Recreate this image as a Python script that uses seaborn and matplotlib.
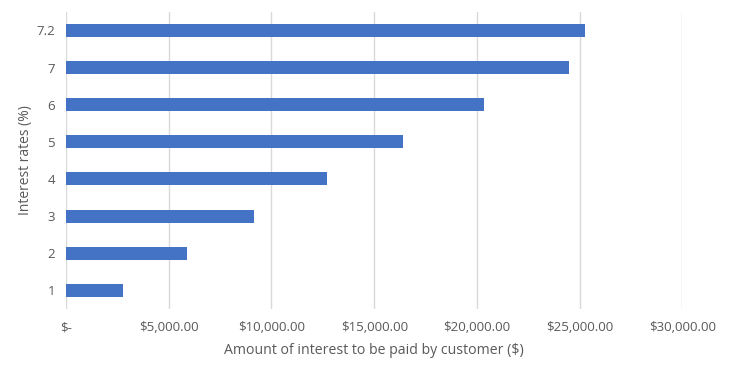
import matplotlib
matplotlib.use("Agg")
import matplotlib.pyplot as plt
from matplotlib.ticker import FuncFormatter, MultipleLocator
import pandas as pd
import seaborn as sns

# values
rates = ["7.2", "7", "6", "5", "4", "3", "2", "1"]
interest = [25270, 24460, 20320, 16390, 12690, 9150, 5880, 2790]

BAR = "#4472C4"
GRID = "#D9D9D9"
TEXT = "#595959"


def money(v, _pos):
    if abs(v) < 1e-9:
        return "$-"
    return f"${v:,.2f}"


def main():
    sns.set_theme(style="white")
    plt.rcParams["font.family"] = ["Open Sans", "DejaVu Sans"]

    df = pd.DataFrame({"rate": rates, "interest": interest})

    fig = plt.figure(figsize=(7.33, 3.73), dpi=100)
    ax = fig.add_axes([0.090, 0.172, 0.841, 0.796])

    sns.barplot(data=df, x="interest", y="rate", order=rates,
                color=BAR, saturation=1, width=0.35, linewidth=0, ax=ax)

    ax.set_xlim(0, 30000)
    ax.set_ylim(7.5, -0.5)
    ax.xaxis.set_major_locator(MultipleLocator(5000))
    ax.xaxis.set_major_formatter(FuncFormatter(money))
    ax.grid(axis="x", color=GRID, linewidth=1)
    ax.grid(axis="y", visible=False)
    ax.set_axisbelow(True)
    for s in ax.spines.values():
        s.set_visible(False)

    ax.tick_params(axis="both", length=0, labelsize=9.5, labelcolor=TEXT)
    ax.tick_params(axis="x", pad=9)
    ax.tick_params(axis="y", pad=8)
    ax.set_xlabel("Amount of interest to be paid by customer ($)",
                  fontsize=10.2, color=TEXT, labelpad=6)
    ax.set_ylabel("Interest rates (%)", fontsize=10, color=TEXT, labelpad=2)

    fig.savefig("out.png", dpi=100, facecolor="white")


if __name__ == "__main__":
    main()
